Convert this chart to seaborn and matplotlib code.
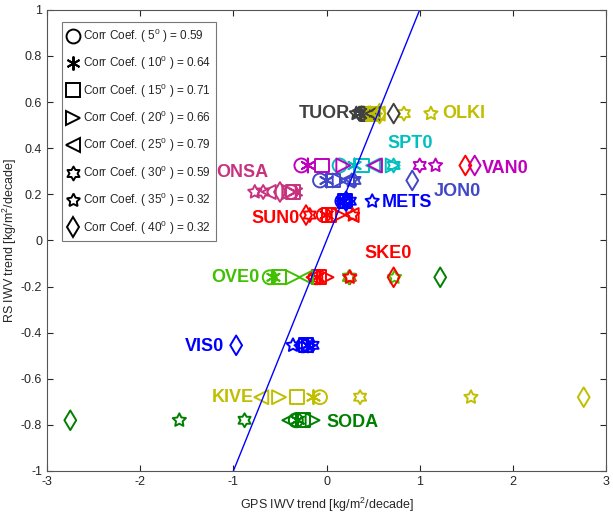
import numpy as np
import pandas as pd
import matplotlib
matplotlib.use("Agg")
import matplotlib.pyplot as plt
from matplotlib.lines import Line2D
from matplotlib.path import Path
from matplotlib.ticker import FormatStrFormatter
import seaborn as sns

# stations (last two rows are unlabeled stray points seen in the figure)
stations = ["TUOR", "OLKI", "SPT0", "VAN0", "ONSA", "JON0", "METS",
            "SUN0", "SKE0", "OVE0", "VIS0", "KIVE", "SODA", "red_x", "green_x"]
station_colors = ["#404040", "#bfbf00", "#00bfbf", "#bf00bf", "#c8327f",
                  "#4048c8", "#0000ff", "#ff0000", "#ff0000", "#40c000",
                  "#0000ff", "#bfbf00", "#008000", "#ff0000", "#008000"]
# RS IWV trend (one value per station)
rs_trend = [0.55, 0.55, 0.325, 0.325, 0.21, 0.26, 0.17,
            0.11, -0.16, -0.16, -0.455, -0.68, -0.78, 0.325, -0.16]

nan = np.nan
# GPS IWV trend per elevation cut-off angle, one value per station
gps_5 = [0.39, 0.46, 0.14, -0.27, -0.38, -0.07, 0.17, -0.03, -0.12, -0.61, -0.25, -0.07, -0.33, nan, nan]
gps_10 = [0.37, 0.47, 0.30, -0.20, -0.33, 0.00, 0.19, 0.00, -0.10, -0.57, -0.20, -0.14, -0.31, nan, nan]
gps_15 = [0.43, 0.50, 0.38, -0.05, -0.36, 0.07, 0.20, 0.03, -0.08, -0.51, -0.22, -0.32, -0.25, nan, nan]
gps_20 = [0.45, 0.52, 0.71, 0.18, -0.40, 0.14, 0.22, 0.13, 0.00, -0.36, -0.19, -0.51, -0.15, nan, nan]
gps_25 = [0.49, 0.55, 0.50, 0.52, -0.62, 0.22, 0.18, 0.27, -0.14, -0.22, -0.27, -0.70, -0.40, nan, nan]
gps_30 = [0.35, 0.83, 0.72, 1.00, -0.68, 0.30, 0.25, -0.18, 0.25, 0.24, -0.15, 0.36, -0.88, nan, nan]
gps_35 = [0.32, 1.12, nan, 1.17, -0.77, 0.27, 0.49, 0.28, 0.25, 0.73, -0.36, 1.55, -1.58, nan, nan]
gps_40 = [0.72, 0.57, nan, 1.59, -0.50, 0.92, 0.21, -0.22, 0.72, nan, -0.97, 2.76, -2.75, 1.49, 1.22]
gps_trend = [gps_5, gps_10, gps_15, gps_20, gps_25, gps_30, gps_35, gps_40]

angles = [5, 10, 15, 20, 25, 30, 35, 40]
corr_coef = [0.59, 0.64, 0.71, 0.66, 0.79, 0.59, 0.32, 0.32]

# station name labels
label_x = [0.25, 1.24, 0.65, 1.67, -0.62, 1.15, 0.59, -0.29, 0.41, -0.72, -1.10, -0.78, 0.00, nan, nan]
label_y = [0.55, 0.55, 0.42, 0.31, 0.295, 0.21, 0.165, 0.095, -0.056, -0.16, -0.46, -0.68, -0.79, nan, nan]
label_ha = ["right", "left", "left", "left", "right", "left", "left",
            "right", "left", "right", "right", "right", "left", "left", "left"]

x_ticks = [-3, -2, -1, 0, 1, 2, 3]
y_ticks = [-1, -0.8, -0.6, -0.4, -0.2, 0, 0.2, 0.4, 0.6, 0.8, 1]
one_to_one = [-1, 1]

sns.set_style("ticks")
plt.rcParams["font.family"] = ["Liberation Sans", "DejaVu Sans"]
plt.rcParams["mathtext.fontset"] = "custom"
plt.rcParams["mathtext.rm"] = "Liberation Sans"
plt.rcParams["mathtext.it"] = "Liberation Sans"

hexagram = Path.unit_regular_star(6, 0.58)
markers = {5: "o", 10: (6, 2, 0), 15: "s", 20: ">", 25: "<",
           30: hexagram, 35: (5, 1, 0), 40: "d"}

rows = []
for a, xs in zip(angles, gps_trend):
    for s, x, y in zip(stations, xs, rs_trend):
        rows.append({"angle": a, "station": s, "gps": x, "rs": y})
df = pd.DataFrame(rows).dropna()
palette = dict(zip(stations, station_colors))

fig = plt.figure(figsize=(6.13, 5.17), dpi=100)
ax = fig.add_axes([0.0767, 0.089, 0.912, 0.892])

sns.lineplot(x=one_to_one, y=one_to_one, color="#0000ff", linewidth=1.0, ax=ax)

# one call per cut-off angle, hollow markers coloured by station
for a in angles:
    sub = df[df["angle"] == a]
    sns.scatterplot(data=sub, x="gps", y="rs", hue="station", palette=palette,
                    marker=markers[a], s=100, linewidth=1.4, legend=False, ax=ax)
    coll = ax.collections[-1]
    coll.set_edgecolors(coll.get_facecolors())
    coll.set_facecolors("none")

for name, lx, ly, ha, c in zip(stations, label_x, label_y, label_ha, station_colors):
    if np.isnan(lx):
        continue
    ax.text(lx, ly, name, ha=ha, va="center", color=c, fontsize=13,
            fontweight="bold")

ax.set_xlim(-3, 3)
ax.set_ylim(-1, 1)
ax.set_xticks(x_ticks)
ax.set_yticks(y_ticks)
ax.xaxis.set_major_formatter(FormatStrFormatter("%g"))
ax.yaxis.set_major_formatter(FormatStrFormatter("%g"))
ax.tick_params(direction="in", top=True, right=True, labelsize=9, length=4)
for sp in ax.spines.values():
    sp.set_color("#555555")
    sp.set_linewidth(0.8)
ax.set_xlabel("GPS IWV trend [kg/m$^2$/decade]", fontsize=9, labelpad=6)
ax.set_ylabel("RS IWV trend [kg/m$^2$/decade]", fontsize=9, labelpad=1)

handles = []
for a, r in zip(angles, corr_coef):
    handles.append(Line2D([], [], linestyle="none", marker=markers[a], markersize=10,
                          markerfacecolor="none", markeredgecolor="black",
                          markeredgewidth=1.4,
                          label=f"Corr Coef. ( {a}$^0$ ) = {r:.2f}"))
leg = ax.legend(handles=handles, loc="upper left", bbox_to_anchor=(0.027, 0.974),
                fontsize=8.5, frameon=True, fancybox=False, borderaxespad=0,
                handlelength=1.0, handletextpad=0.4, labelspacing=0.78,
                borderpad=0.4)
leg.get_frame().set_edgecolor("#555555")
leg.get_frame().set_linewidth(0.8)

fig.savefig("out.png", dpi=100)
